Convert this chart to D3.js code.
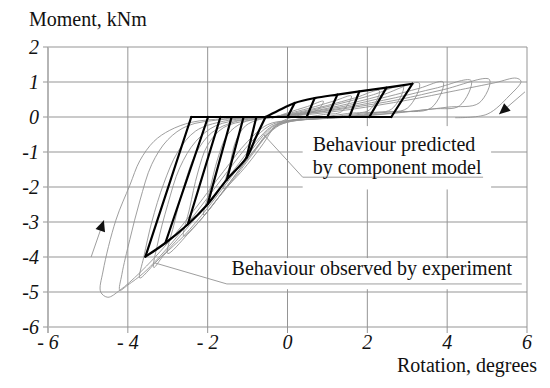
<!DOCTYPE html>
<html><head><meta charset="utf-8"><script src="https://cdn.jsdelivr.net/npm/d3@7"></script>
<style>
  @font-face { font-family: "ChartSerif"; src: local("Liberation Serif"), local("LiberationSerif"), local("Tinos"); font-style: normal; }
  @font-face { font-family: "ChartSerif"; src: local("Liberation Serif Italic"), local("LiberationSerif-Italic"), local("Tinos Italic"); font-style: italic; }
</style>
</head>
<body style="margin:0">
<script>
// Axis ticks
var xTicks = [-6, -4, -2, 0, 2, 4, 6];
var yTicks = [2, 1, 0, -1, -2, -3, -4, -5, -6];

// Component model (black) - [rotation deg, moment kNm]
var modelNegEnvelope = [[-0.55, 0], [-0.8, -0.6], [-1.03, -1.17], [-1.52, -1.79], [-2.0, -2.49], [-2.5, -3.07], [-3.06, -3.6], [-3.56, -3.99]];
var modelPosEnvelope = [[-0.55, 0], [-0.25, 0.17], [0.18, 0.4], [0.68, 0.54], [1.25, 0.64], [1.8, 0.73], [2.48, 0.84], [3.13, 0.95]];
var modelZeroLine = [[-2.41, 0], [2.6, 0]];
var modelNegUnloadTop = [-2.41, -1.99, -1.68, -1.40, -1.10, -0.78];
var modelNegUnloadBottom = [[-3.56, -3.99], [-3.06, -3.6], [-2.5, -3.07], [-2.0, -2.49], [-1.52, -1.79], [-1.03, -1.17]];
var modelPosUnloadTop = [[0.18, 0.4], [0.68, 0.54], [1.25, 0.64], [1.8, 0.73], [2.48, 0.84], [3.13, 0.95]];
var modelPosUnloadBottom = [0.0, 0.48, 1.0, 1.55, 2.05, 2.6];

// Experiment (grey) cycles
var cycle1 = [[-0.4,-0.05],[0.0,0.12],[0.5,0.3],[0.9,0.45],[0.75,0.2],[0.4,0.08],[0.0,-0.05],[-0.3,-0.25],[-0.6,-0.75],[-1.0,-1.35],[-1.35,-1.8],[-1.6,-2.05],[-1.45,-1.4],[-1.3,-0.7],[-1.05,-0.25],[-0.7,-0.07],[-0.4,-0.02]];
var cycle2 = [[-0.4,-0.02],[0.1,0.12],[0.7,0.3],[1.2,0.47],[1.6,0.6],[1.35,0.15],[0.9,0.07],[0.3,-0.05],[-0.2,-0.2],[-0.5,-0.5],[-0.9,-1.1],[-1.4,-1.85],[-1.8,-2.4],[-2.1,-2.8],[-1.95,-2.1],[-1.75,-1.2],[-1.5,-0.5],[-1.1,-0.15],[-0.5,-0.03]];
var cycle3 = [[-0.5,-0.03],[0.2,0.12],[1.0,0.33],[1.7,0.55],[2.3,0.75],[2.05,0.2],[1.5,0.1],[0.6,-0.05],[-0.1,-0.18],[-0.45,-0.45],[-0.9,-1.05],[-1.5,-1.95],[-2.0,-2.7],[-2.35,-3.15],[-2.6,-3.4],[-2.45,-2.6],[-2.25,-1.6],[-2.0,-0.8],[-1.6,-0.3],[-1.0,-0.1],[-0.5,-0.03]];
var cycle4 = [[-0.5,-0.03],[0.3,0.12],[1.2,0.35],[2.1,0.62],[2.9,0.88],[2.6,0.22],[1.9,0.12],[0.9,-0.03],[0.0,-0.15],[-0.4,-0.35],[-0.8,-0.9],[-1.4,-1.8],[-2.0,-2.7],[-2.5,-3.35],[-3.0,-3.9],[-2.85,-3.1],[-2.6,-2.0],[-2.3,-1.05],[-1.9,-0.45],[-1.3,-0.13],[-0.6,-0.03]];
var cycle5 = [[-0.6,-0.03],[0.3,0.1],[1.3,0.32],[2.3,0.6],[3.3,0.97],[3.0,0.25],[2.2,0.13],[1.0,-0.03],[0.0,-0.13],[-0.4,-0.3],[-0.8,-0.8],[-1.4,-1.7],[-2.0,-2.6],[-2.6,-3.4],[-3.1,-3.95],[-3.35,-4.3],[-3.25,-3.6],[-3.0,-2.5],[-2.7,-1.45],[-2.3,-0.7],[-1.8,-0.25],[-1.1,-0.07],[-0.6,-0.02]];
var cycle6 = [[-0.6,-0.02],[0.3,0.1],[1.4,0.3],[2.5,0.58],[3.3,0.82],[3.9,1.0],[3.6,0.26],[2.6,0.15],[1.2,-0.02],[0.0,-0.12],[-0.4,-0.27],[-0.8,-0.72],[-1.4,-1.6],[-2.1,-2.6],[-2.8,-3.55],[-3.3,-4.15],[-3.7,-4.6],[-3.6,-4.0],[-3.4,-3.0],[-3.1,-1.9],[-2.75,-1.0],[-2.3,-0.4],[-1.6,-0.12],[-0.7,-0.02]];
var cycle7 = [[-0.7,-0.02],[0.3,0.08],[1.5,0.28],[2.7,0.55],[3.7,0.82],[4.6,1.04],[4.31,0.32],[3.64,0.23],[2.3,0.08],[1.0,-0.03],[0.0,-0.1],[-0.45,-0.25],[-0.9,-0.7],[-1.5,-1.55],[-2.2,-2.6],[-2.9,-3.6],[-3.6,-4.45],[-4.0,-4.8],[-4.2,-4.95],[-4.15,-4.5],[-3.95,-3.5],[-3.7,-2.4],[-3.4,-1.35],[-3.0,-0.65],[-2.5,-0.25],[-1.7,-0.08],[-0.8,-0.02]];
var cycle8 = [[-0.8,-0.02],[0.2,0.06],[1.5,0.25],[2.8,0.5],[3.9,0.78],[5.06,1.07],[4.8,0.4],[4.0,0.28],[2.6,0.1],[1.2,-0.03],[0.0,-0.1],[-0.5,-0.22],[-1.0,-0.7],[-1.6,-1.55],[-2.3,-2.6],[-3.0,-3.6],[-3.7,-4.45],[-4.2,-4.95],[-4.5,-5.15],[-4.68,-5.0],[-4.62,-4.4],[-4.3,-2.95],[-3.95,-1.95],[-3.7,-1.25],[-3.35,-0.7],[-2.95,-0.38],[-2.4,-0.15],[-1.6,-0.05],[-0.8,-0.01]];
var cycle9 = [[-0.8,-0.01],[0.3,0.05],[1.6,0.22],[3.0,0.48],[4.2,0.75],[5.2,0.98],[5.73,1.11],[5.85,1.02],[5.55,0.6],[5.0,0.08],[4.2,-0.02]];
var experimentCycles = [cycle1, cycle2, cycle3, cycle4, cycle5, cycle6, cycle7, cycle8, cycle9];

// Direction arrows
var arrowRight = [[5.95, 0.72], [5.3, 0.08]];
var arrowLeft = [[-4.92, -4.0], [-4.6, -2.95]];

// SVG
var svgWidth = 550;
var svgHeight = 388;
var margin = { top: 47, right: 23, bottom: 61, left: 48 };
var fontName = "'Liberation Serif', ChartSerif, Tinos, 'Times New Roman', FreeSerif, serif";

var svg = d3.select("body")
    .append("svg")
    .attr("width", svgWidth)
    .attr("height", svgHeight);

// Scales
var xScale = d3.scaleLinear()
    .domain([-6, 6])
    .range([margin.left, svgWidth - margin.right]);

var yScale = d3.scaleLinear()
    .domain([-6, 2])
    .range([svgHeight - margin.bottom, margin.top]);

// Adds a text element with the serif face
function addText(x, y, str, opts) {
    opts = opts || {};
    return svg.append("text")
        .attr("x", x)
        .attr("y", y)
        .attr("text-anchor", opts.anchor || "start")
        .attr("fill", "#111")
        .style("font-family", fontName)
        .style("font-size", "20px")
        .style("font-style", opts.italic ? "italic" : "normal")
        .text(str);
}

// Grid
var grid = svg.append("g");
grid.selectAll(".hgrid")
    .data(yTicks)
    .enter()
    .append("line")
    .attr("x1", xScale(-6))
    .attr("x2", xScale(6))
    .attr("y1", d => yScale(d))
    .attr("y2", d => yScale(d))
    .attr("stroke", "#959595")
    .attr("stroke-width", 1);

grid.selectAll(".vgrid")
    .data(xTicks)
    .enter()
    .append("line")
    .attr("x1", d => xScale(d))
    .attr("x2", d => xScale(d))
    .attr("y1", yScale(2))
    .attr("y2", yScale(-6) + 6)
    .attr("stroke", "#959595")
    .attr("stroke-width", 1);

// Left axis line and ticks
svg.append("line")
    .attr("x1", xScale(-6))
    .attr("x2", xScale(-6))
    .attr("y1", yScale(2))
    .attr("y2", yScale(-6) + 6)
    .attr("stroke", "#b5b5b5")
    .attr("stroke-width", 2);

svg.selectAll(".ytick")
    .data(yTicks)
    .enter()
    .append("line")
    .attr("x1", xScale(-6) - 5)
    .attr("x2", xScale(-6))
    .attr("y1", d => yScale(d))
    .attr("y2", d => yScale(d))
    .attr("stroke", "#959595");

// Tick labels
yTicks.forEach(function(d) {
    addText(xScale(-6) - 9, yScale(d) + 7, String(d), { italic: true, anchor: "end" });
});
xTicks.forEach(function(d) {
    addText(xScale(d), yScale(-6) + 22, d < 0 ? "- " + Math.abs(d) : String(d), { italic: true, anchor: "middle" });
});

// Experiment curves
var line = d3.line()
    .x(d => xScale(d[0]))
    .y(d => yScale(d[1]));

var smooth = d3.line()
    .x(d => xScale(d[0]))
    .y(d => yScale(d[1]))
    .curve(d3.curveCatmullRom.alpha(0.5));

svg.selectAll(".exp")
    .data(experimentCycles)
    .enter()
    .append("path")
    .attr("d", smooth)
    .attr("fill", "none")
    .attr("stroke", "#939393")
    .attr("stroke-width", 0.9);

// Arrows
function drawArrow(pts) {
    svg.append("path")
        .attr("d", line(pts))
        .attr("stroke", "#939393")
        .attr("stroke-width", 0.9)
        .attr("fill", "none");
    var x0 = xScale(pts[0][0]), y0 = yScale(pts[0][1]);
    var x1 = xScale(pts[1][0]), y1 = yScale(pts[1][1]);
    var ang = Math.atan2(y1 - y0, x1 - x0);
    var len = 11, half = 5;
    var bx = x1 - len * Math.cos(ang), by = y1 - len * Math.sin(ang);
    var tri = [
        [x1, y1],
        [bx + half * Math.sin(ang), by - half * Math.cos(ang)],
        [bx - half * Math.sin(ang), by + half * Math.cos(ang)]
    ];
    svg.append("path")
        .attr("d", "M" + tri.join("L") + "Z")
        .attr("fill", "#111");
}
drawArrow(arrowRight);
drawArrow(arrowLeft);

// Component model
var model = svg.append("g")
    .attr("fill", "none")
    .attr("stroke", "#000")
    .attr("stroke-width", 2.2)
    .attr("stroke-linejoin", "round")
    .attr("stroke-linecap", "round");

model.append("path").attr("d", smooth(modelNegEnvelope));
model.append("path").attr("d", smooth(modelPosEnvelope));
model.append("path").attr("d", line(modelZeroLine));

model.selectAll(".negun")
    .data(modelNegUnloadTop)
    .enter()
    .append("line")
    .attr("x1", d => xScale(d))
    .attr("y1", yScale(0))
    .attr("x2", (d, i) => xScale(modelNegUnloadBottom[i][0]))
    .attr("y2", (d, i) => yScale(modelNegUnloadBottom[i][1]));

model.selectAll(".posun")
    .data(modelPosUnloadTop)
    .enter()
    .append("line")
    .attr("x1", d => xScale(d[0]))
    .attr("y1", d => yScale(d[1]))
    .attr("x2", (d, i) => xScale(modelPosUnloadBottom[i]))
    .attr("y2", yScale(0));

// Annotations
function annotate(box, leader, lines, tx, ty) {
    svg.append("rect")
        .attr("x", xScale(box[0]))
        .attr("y", yScale(box[1]))
        .attr("width", xScale(box[2]) - xScale(box[0]))
        .attr("height", yScale(box[3]) - yScale(box[1]))
        .attr("fill", "#fff");
    svg.append("path")
        .attr("d", line(leader))
        .attr("fill", "none")
        .attr("stroke", "#939393")
        .attr("stroke-width", 0.9);
    lines.forEach(function(t, i) {
        addText(xScale(tx), yScale(ty) + i * 23, t);
    });
}

annotate([0.38, -0.26, 5.1, -2.07],
    [[-0.6, -0.5], [0.38, -1.72], [4.9, -1.72]],
    ["Behaviour predicted", "by component model"], 0.63, -0.97);

annotate([-1.5, -4.03, 5.9, -4.92],
    [[-3.32, -4.17], [-1.52, -4.77], [5.87, -4.77]],
    ["Behaviour observed by experiment"], -1.4, -4.5);

// Axis titles
addText(29, 26, "Moment, kNm");
addText(537, 372, "Rotation, degrees", { anchor: "end" });
</script>
</body>
</html>
